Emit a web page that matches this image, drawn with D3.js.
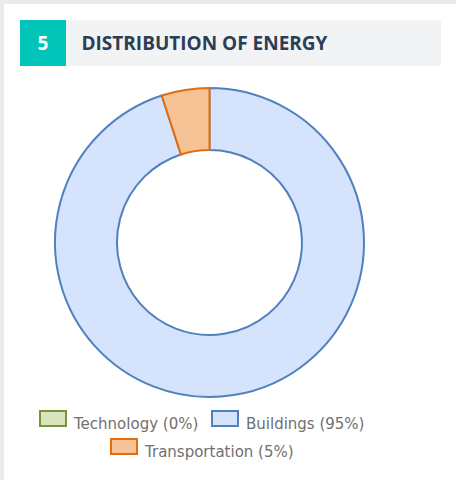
<!DOCTYPE html>
<html>
<head>
<meta charset="utf-8">
<script src="https://cdn.jsdelivr.net/npm/d3@7"></script>
<style>
  html, body { margin: 0; padding: 0; background: #e9ebee; }
  #card { position: absolute; left: 4px; top: 4px; width: 452px; height: 476px; background: #fff; }
  svg { position: absolute; left: 0; top: 0; }
</style>
</head>
<body>
<div id="card"></div>
<svg id="chart" width="456" height="480"></svg>
<script>
const sectionNumber = '5';
const title = 'DISTRIBUTION OF ENERGY';
const categories = ['Technology', 'Buildings', 'Transportation'];
const shares = [0, 95, 5];
const fills = ['#d7e4bd', '#d6e3fc', '#f5c396'];
const strokes = ['#77933c', '#4f81bd', '#e46c0a'];

const svg = d3.select('#chart');

// header
svg.append('rect').attr('x', 66).attr('y', 20).attr('width', 375).attr('height', 46).attr('fill', '#f2f3f5');
svg.append('rect').attr('x', 20).attr('y', 20).attr('width', 46).attr('height', 46).attr('fill', '#00c5b8');
svg.append('text').attr('x', 43).attr('y', 49.5).attr('text-anchor', 'middle')
  .attr('font-family', 'Open Sans').attr('font-weight', 700).attr('font-size', 19)
  .attr('fill', '#fff').text(sectionNumber);
svg.append('text').attr('x', 81.5).attr('y', 49.5)
  .attr('font-family', 'Open Sans').attr('font-weight', 700).attr('font-size', 19)
  .attr('fill', '#2c3e55').text(title);

// donut
const cx = 209.5, cy = 242.5, outerR = 154.5, innerR = 92.5;
const pie = d3.pie().sort(null).value(d => d)(shares);
const arc = d3.arc().innerRadius(innerR).outerRadius(outerR);
const g = svg.append('g').attr('transform', `translate(${cx},${cy})`);
g.selectAll('path')
  .data(pie)
  .enter()
  .append('path')
  .attr('d', arc)
  .attr('fill', (d, i) => fills[i])
  .attr('stroke', (d, i) => strokes[i])
  .attr('stroke-width', 2)
  .attr('stroke-linejoin', 'round');

// legend
const labels = categories.map((c, i) => `${c} (${shares[i]}%)`);
const legendPos = [
  { x: 39, y: 410 },
  { x: 211, y: 410 },
  { x: 110, y: 438 }
];
const lg = svg.append('g');
labels.forEach((t, i) => {
  const p = legendPos[i];
  lg.append('rect').attr('x', p.x + 1).attr('y', p.y + 1).attr('width', 26).attr('height', 15)
    .attr('fill', fills[i]).attr('stroke', strokes[i]).attr('stroke-width', 2);
  lg.append('text').attr('x', p.x + 35).attr('y', p.y + 19)
    .attr('font-family', 'DejaVu Sans').attr('font-size', 15)
    .attr('fill', '#707070').text(t);
});
</script>
</body>
</html>
